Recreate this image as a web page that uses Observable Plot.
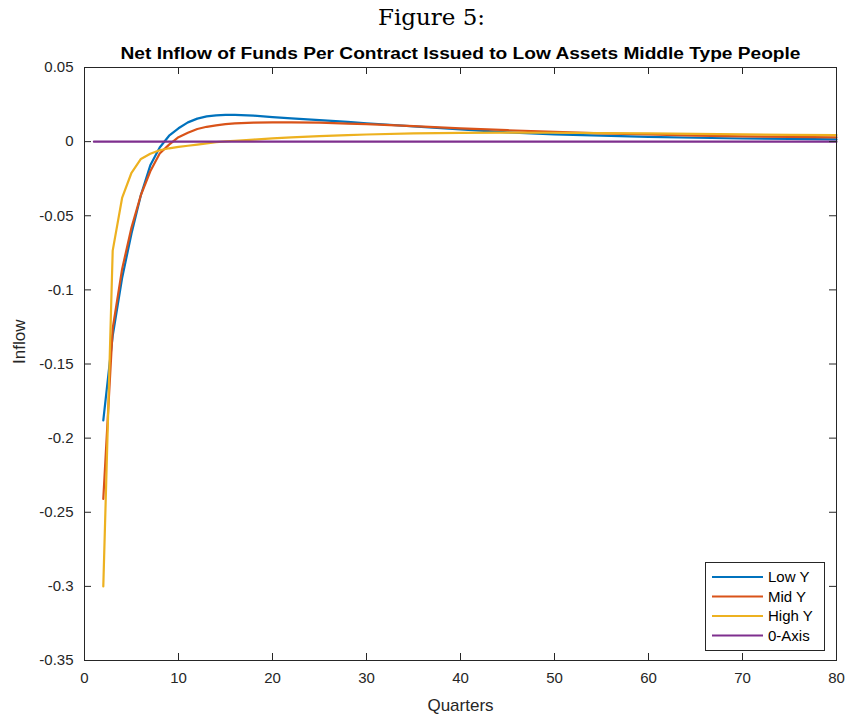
<!DOCTYPE html>
<html>
<head>
<meta charset="utf-8">
<script src="https://cdn.jsdelivr.net/npm/d3@7"></script>
<script src="https://cdn.jsdelivr.net/npm/@observablehq/plot@0.6"></script>
<style>
  body { margin: 0; background: #fff; }
  svg { display: block; }
</style>
</head>
<body>
<div id="chart"></div>
<script>
const figureLabel = "Figure 5:";
const chartTitle = "Net Inflow of Funds Per Contract Issued to Low Assets Middle Type People";
const xLabel = "Quarters";
const yLabel = "Inflow";

const seriesNames = ["Low Y", "Mid Y", "High Y", "0-Axis"];
const seriesColors = ["#0072BD", "#D95319", "#EDB120", "#7E2F8E"];

const quarters = [2,3,4,5,6,7,8,9,10,11,12,13,14,15,16,18,20,22,25,28,30,35,40,45,50,55,60,65,70,75,80];
const lowY  = [-0.188,-0.131,-0.092,-0.062,-0.036,-0.016,-0.004,0.004,0.009,0.013,0.0155,0.017,0.0177,0.018,0.018,0.0175,0.0165,0.0157,0.0145,0.0133,0.0124,0.0103,0.0082,0.0063,0.0049,0.0040,0.0032,0.0026,0.0021,0.0018,0.0015];
const midY  = [-0.241,-0.126,-0.086,-0.058,-0.036,-0.020,-0.008,-0.002,0.003,0.006,0.0085,0.010,0.011,0.0118,0.0123,0.0128,0.013,0.013,0.0128,0.0122,0.0118,0.0105,0.0090,0.0077,0.0066,0.0056,0.0048,0.0041,0.0036,0.0032,0.0029];
const highY = [-0.300,-0.0735,-0.038,-0.021,-0.0117,-0.0082,-0.0058,-0.0045,-0.0035,-0.0028,-0.002,-0.0012,-0.0004,0.0002,0.0006,0.0014,0.0022,0.0029,0.0037,0.0044,0.0048,0.0055,0.0059,0.0061,0.0060,0.0058,0.0055,0.0052,0.0049,0.0046,0.0044];
const zeroAxisX = [1, 80];
const zeroAxisY = [0, 0];

const xTicks = [0,10,20,30,40,50,60,70,80];
const yTicks = [-0.35,-0.3,-0.25,-0.2,-0.15,-0.1,-0.05,0,0.05];

const rows = [];
[lowY, midY, highY].forEach((vals, s) => {
  quarters.forEach((q, i) => rows.push({series: seriesNames[s], q, v: vals[i]}));
});
zeroAxisX.forEach((q, i) => rows.push({series: seriesNames[3], q, v: zeroAxisY[i]}));

const W = 847, H = 716;
const mL = 84, mR = 11, mT = 67, mB = 56;
const innerW = W - mL - mR, innerH = H - mT - mB;
const axisColor = "#262626";
const tickLen = 7;
const fmt = d => String(+d.toFixed(2));

function legendMark(index, scales, values, dims) {
  const x0 = dims.width - dims.marginRight - 131;
  const y0 = dims.height - dims.marginBottom - 98;
  const g = d3.create("svg:g").attr("transform", `translate(${x0},${y0})`);
  g.append("rect").attr("x", 0.5).attr("y", 0.5).attr("width", 119).attr("height", 88)
    .attr("fill", "#fff").attr("stroke", axisColor).attr("stroke-width", 1);
  seriesNames.forEach((name, i) => {
    const yy = 15 + i * 19.5;
    g.append("line").attr("x1", 7).attr("x2", 58).attr("y1", yy).attr("y2", yy)
      .attr("stroke", scales.color(name)).attr("stroke-width", 2);
    g.append("text").attr("x", 63).attr("y", yy).attr("dy", "0.35em")
      .attr("text-anchor", "start")
      .attr("font-size", 15).attr("fill", "#000").text(name);
  });
  return g.node();
}

const chart = Plot.plot({
  width: W, height: H,
  marginLeft: mL, marginRight: mR, marginTop: mT, marginBottom: mB,
  style: {fontFamily: "'Liberation Sans', Arial, sans-serif", background: "#fff", color: "#000"},
  x: {domain: [0, 80]},
  y: {domain: [-0.35, 0.05]},
  color: {domain: seriesNames, range: seriesColors},
  marks: [
    Plot.axisX(xTicks, {tickSize: 0, tickPadding: 12, tickFormat: fmt, fontSize: 15, label: null, fill: "#262626"}),
    Plot.axisY(yTicks, {tickSize: 0, tickPadding: 11, tickFormat: fmt, fontSize: 15, label: null, fill: "#262626"}),
    Plot.line(rows, {x: "q", y: "v", z: "series", stroke: "series", strokeWidth: 2.2, curve: "linear"}),
    Plot.frame({stroke: axisColor, strokeWidth: 1}),
    Plot.tickX(xTicks, {x: d => d, stroke: axisColor, insetTop: innerH - tickLen}),
    Plot.tickX(xTicks, {x: d => d, stroke: axisColor, insetBottom: innerH - tickLen}),
    Plot.tickY(yTicks, {y: d => d, stroke: axisColor, insetRight: innerW - tickLen}),
    Plot.tickY(yTicks, {y: d => d, stroke: axisColor, insetLeft: innerW - tickLen}),
    Plot.text([chartTitle], {frameAnchor: "top", lineAnchor: "middle", dy: -14, fontWeight: "bold", fontSize: 16, fill: "#000", className: "chart-title"}),
    Plot.text([figureLabel], {frameAnchor: "top", lineAnchor: "middle", dx: -29, dy: -50, fontSize: 23, fontFamily: "'DejaVu Serif', 'Liberation Serif', serif", fill: "#000"}),
    Plot.text([xLabel], {frameAnchor: "bottom", lineAnchor: "middle", dy: 45, fontSize: 17, fill: "#262626"}),
    Plot.text([yLabel], {frameAnchor: "left", dx: -65, rotate: -90, fontSize: 17, fill: "#262626"}),
    legendMark
  ]
});
d3.select(chart).selectAll(".chart-title text")
  .attr("textLength", 680).attr("lengthAdjust", "spacingAndGlyphs");
document.getElementById("chart").append(chart);
</script>
</body>
</html>
